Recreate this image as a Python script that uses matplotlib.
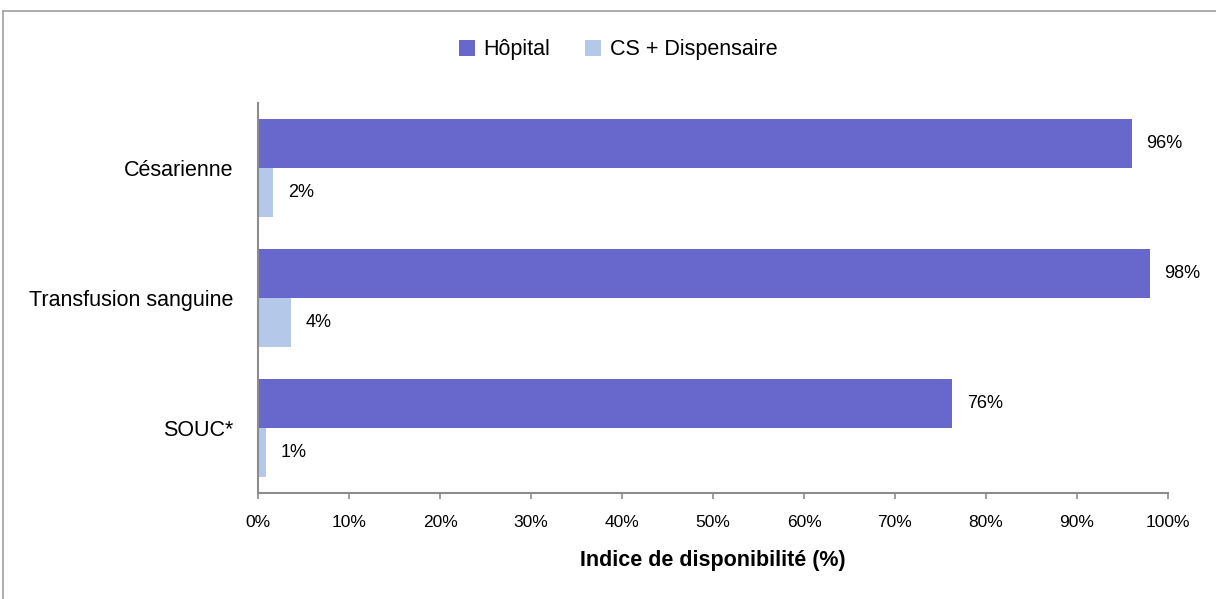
import matplotlib
matplotlib.use("Agg")
import matplotlib.pyplot as plt
from matplotlib.lines import Line2D
import numpy as np

categories = ["Césarienne", "Transfusion sanguine", "SOUC*"]
series_names = ["Hôpital", "CS + Dispensaire"]
hopital = [96.0, 98.0, 76.3]
cs_dispensaire = [1.7, 3.6, 0.9]
x_ticks = [0, 10, 20, 30, 40, 50, 60, 70, 80, 90, 100]
x_label = "Indice de disponibilité (%)"

colors = ["#6767CC", "#B4C8EA"]

plt.rcParams['font.family'] = ['Liberation Sans', 'DejaVu Sans']

W, H = 1216, 599
fig = plt.figure(figsize=(W / 100, H / 100), dpi=100)
ax = fig.add_axes([258 / W, 1 - 493 / H, (1168 - 258) / W, (493 - 103) / H])

y = np.arange(len(categories))
h = 0.377
b1 = ax.barh(y - h / 2, hopital, height=h, color=colors[0], label=series_names[0])
b2 = ax.barh(y + h / 2, cs_dispensaire, height=h, color=colors[1], label=series_names[1])

for bars, vals in ((b1, hopital), (b2, cs_dispensaire)):
    for rect, v in zip(bars, vals):
        ax.annotate(f"{round(v):d}%", (v, rect.get_y() + rect.get_height() / 2),
                    xytext=(10.5, 0), textcoords="offset points",
                    va="center", ha="left", fontsize=13, color="#000000")

ax.set_xlim(0, 100)
ax.set_ylim(-0.5, len(categories) - 0.5)
ax.invert_yaxis()
ax.set_xticks(x_ticks)
ax.set_xticklabels([f"{t}%" for t in x_ticks], fontsize=12.5)
ax.set_yticks(y)
ax.set_yticklabels(categories, fontsize=15.5)
ax.tick_params(axis="y", length=0, pad=18)
ax.tick_params(axis="x", length=4, width=1.2, color="#8C8C8C", pad=12, direction="out")
for s in ("top", "right"):
    ax.spines[s].set_visible(False)
for s in ("left", "bottom"):
    ax.spines[s].set_color("#8C8C8C")
    ax.spines[s].set_linewidth(1.5)
ax.set_xlabel(x_label, fontsize=15.5, fontweight="bold", labelpad=14)

fig.legend(handles=[b1, b2], labels=series_names, loc="center",
           bbox_to_anchor=(618 / W, 1 - 50 / H), ncol=2, frameon=False,
           fontsize=15.5, handlelength=0.75, handleheight=0.75,
           handletextpad=0.4, columnspacing=1.6)

frame_color = "#A0A0A0"
fig.add_artist(Line2D([3 / W, 1.0], [1 - 11 / H, 1 - 11 / H], transform=fig.transFigure,
                      color=frame_color, linewidth=1.2))
fig.add_artist(Line2D([3 / W, 3 / W], [0, 1 - 11 / H], transform=fig.transFigure,
                      color=frame_color, linewidth=1.2))

fig.savefig("out.png", dpi=100, facecolor="white")
